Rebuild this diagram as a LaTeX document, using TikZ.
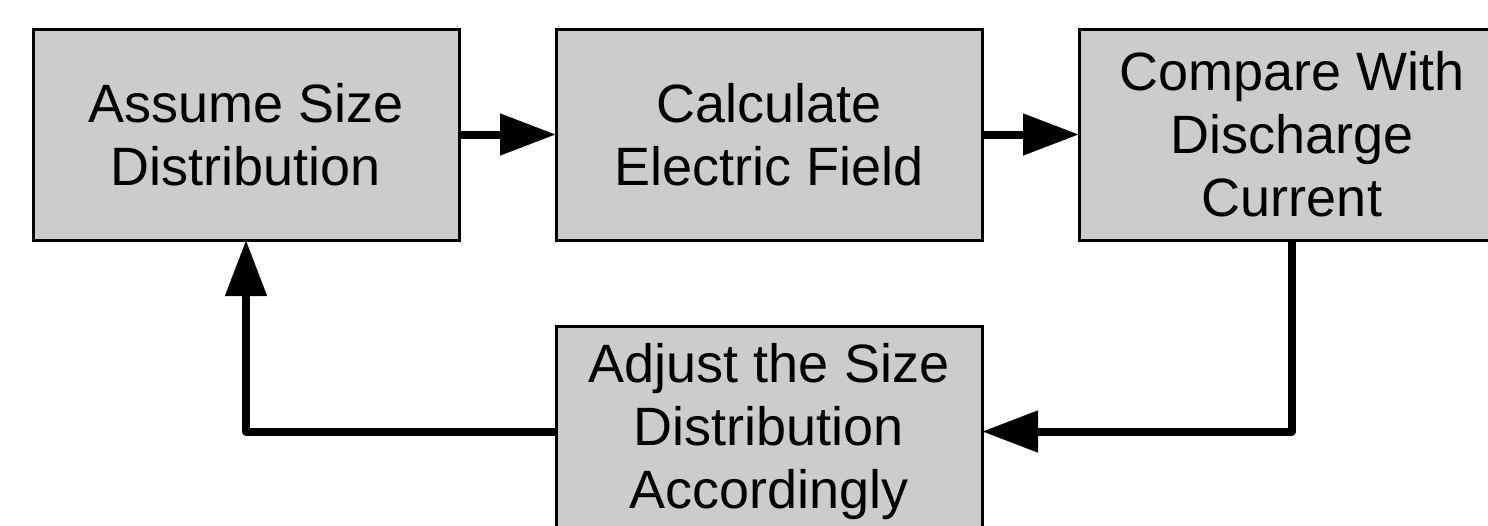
\documentclass[tikz,border=0pt]{standalone}
\usepackage{fontspec}
\setmainfont{Liberation Sans}
\usetikzlibrary{arrows.meta}
\definecolor{boxgray}{HTML}{CCCCCC}
\begin{document}
\begin{tikzpicture}[x=1pt,y=-1pt,
  stepbox/.style={draw=black, line width=3pt, fill=boxgray, minimum width=426pt, minimum height=211pt,
    inner sep=0pt, outer sep=0pt, align=center, font=\fontsize{54pt}{63pt}\selectfont},
  flow/.style={line width=8pt, line join=round, -{Triangle[length=56pt,width=40pt]}}]
\clip (0,0) rectangle (1488,525);
\fill[white] (0,0) rectangle (1488,525);
\node[stepbox] (b1) at (246,134.5) {Assume Size\\Distribution};
\node[stepbox] (b2) at (769,134.5) {Calculate\\Electric Field};
\node[stepbox] (b3) at (1292,134.5) {Compare With\\Discharge\\Current};
\node[stepbox] (b4) at (769,431.5) {Adjust the Size\\Distribution\\Accordingly};
\draw[flow] (b1.east) -- (b2.west);
\draw[flow] (b2.east) -- (b3.west);
\draw[flow] (b3.south) |- (b4.east);
\draw[flow] (b4.west) -| (b1.south);
\end{tikzpicture}
\end{document}
